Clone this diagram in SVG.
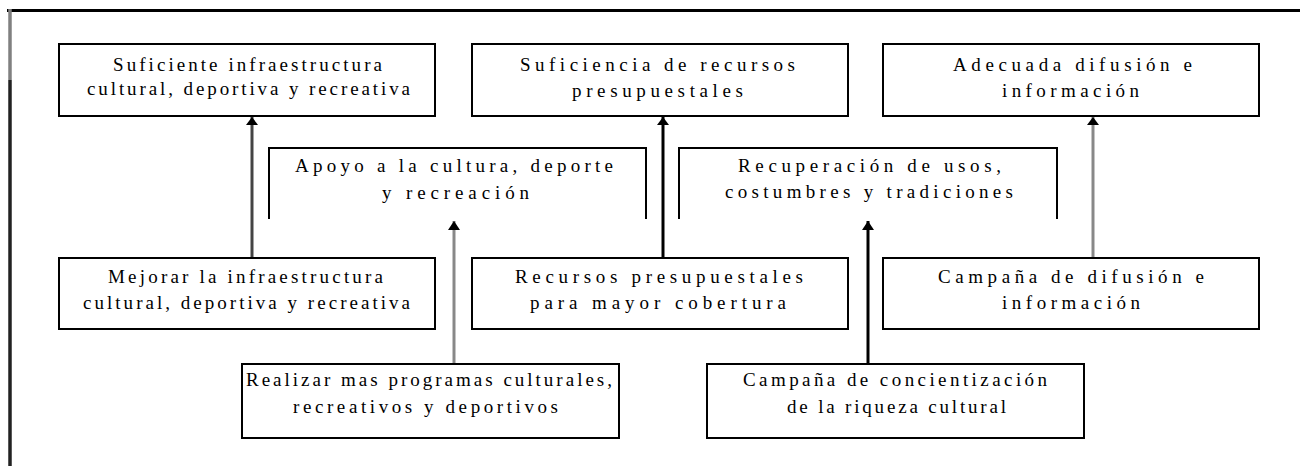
<svg xmlns="http://www.w3.org/2000/svg" width="1300" height="466" viewBox="0 0 1300 466">
<style>
.box{fill:#fff;stroke:#000;stroke-width:2}
.frame{fill:none;stroke:#000;stroke-width:2}
.t{font-family:"Liberation Serif","Times New Roman",serif;font-size:19px;fill:#000}
.c{fill:none;stroke-width:3}
</style>
<rect width="1300" height="466" fill="#fff"/>
<line x1="7" y1="10.5" x2="1300" y2="10.5" stroke="#000" stroke-width="3"/>
<line x1="10" y1="9" x2="10" y2="80" stroke="#808080" stroke-width="3.5"/>
<line x1="10" y1="80" x2="10" y2="466" stroke="#222" stroke-width="3.5"/>

<g id="connectors">
<line class="c" x1="252" y1="258" x2="252" y2="117" stroke="#444"/>
<line class="c" x1="663" y1="258" x2="663" y2="117" stroke="#000"/>
<line class="c" x1="1093" y1="258" x2="1093" y2="117" stroke="#888"/>
<line class="c" x1="454" y1="364" x2="454" y2="221" stroke="#888"/>
<line class="c" x1="868" y1="364" x2="868" y2="221" stroke="#000"/>
<path d="M246,125 L258,125 L252,117 Z" fill="#000"/>
<path d="M657,125 L669,125 L663,117 Z" fill="#000"/>
<path d="M1087,125 L1099,125 L1093,117 Z" fill="#000"/>
<path d="M448,230 L460,230 L454,221 Z" fill="#000"/>
<path d="M862,230 L874,230 L868,221 Z" fill="#000"/>
</g>

<g id="n1">
<rect class="box" x="59" y="44" width="376" height="72"/>
<text class="t" x="113" y="71" textLength="269" lengthAdjust="spacing">Suficiente infraestructura</text>
<text class="t" x="87" y="95" textLength="323" lengthAdjust="spacing">cultural, deportiva y recreativa</text>
</g>
<g id="n2">
<rect class="box" x="472" y="44" width="376" height="72"/>
<text class="t" x="520" y="71" textLength="275" lengthAdjust="spacing">Suficiencia de recursos</text>
<text class="t" x="572" y="97" textLength="171" lengthAdjust="spacing">presupuestales</text>
</g>
<g id="n3">
<rect class="box" x="883" y="44" width="376" height="72"/>
<text class="t" x="953" y="71" textLength="239" lengthAdjust="spacing">Adecuada difusión e</text>
<text class="t" x="1002" y="97" textLength="137" lengthAdjust="spacing">información</text>
</g>
<g id="n4">
<path class="frame" d="M269,219 V148 H646 V219"/>
<text class="t" x="295" y="172" textLength="318" lengthAdjust="spacing">Apoyo a la cultura, deporte</text>
<text class="t" x="382" y="199" textLength="147" lengthAdjust="spacing">y recreación</text>
</g>
<g id="n5">
<path class="frame" d="M679,219 V148 H1057 V219"/>
<text class="t" x="738" y="172" textLength="263" lengthAdjust="spacing">Recuperación de usos,</text>
<text class="t" x="725" y="198" textLength="288" lengthAdjust="spacing">costumbres y tradiciones</text>
</g>
<g id="n6">
<rect class="box" x="59" y="258" width="376" height="71"/>
<text class="t" x="108" y="283" textLength="275" lengthAdjust="spacing">Mejorar la infraestructura</text>
<text class="t" x="83" y="309" textLength="327" lengthAdjust="spacing">cultural, deportiva y recreativa</text>
</g>
<g id="n7">
<rect class="box" x="472" y="258" width="376" height="71"/>
<text class="t" x="515" y="283" textLength="288" lengthAdjust="spacing">Recursos presupuestales</text>
<text class="t" x="530" y="309" textLength="256" lengthAdjust="spacing">para mayor cobertura</text>
</g>
<g id="n8">
<rect class="box" x="883" y="258" width="376" height="71"/>
<text class="t" x="938" y="283" textLength="266" lengthAdjust="spacing">Campaña de difusión e</text>
<text class="t" x="1002" y="309" textLength="138" lengthAdjust="spacing">información</text>
</g>
<g id="n9">
<rect class="box" x="242" y="364" width="377" height="74"/>
<text class="t" x="246" y="386" textLength="366" lengthAdjust="spacing">Realizar mas programas culturales,</text>
<text class="t" x="293" y="413" textLength="265" lengthAdjust="spacing">recreativos y deportivos</text>
</g>
<g id="n10">
<rect class="box" x="707" y="364" width="377" height="74"/>
<text class="t" x="743" y="386" textLength="304" lengthAdjust="spacing">Campaña de concientización</text>
<text class="t" x="787" y="413" textLength="219" lengthAdjust="spacing">de la riqueza cultural</text>
</g>
</svg>
